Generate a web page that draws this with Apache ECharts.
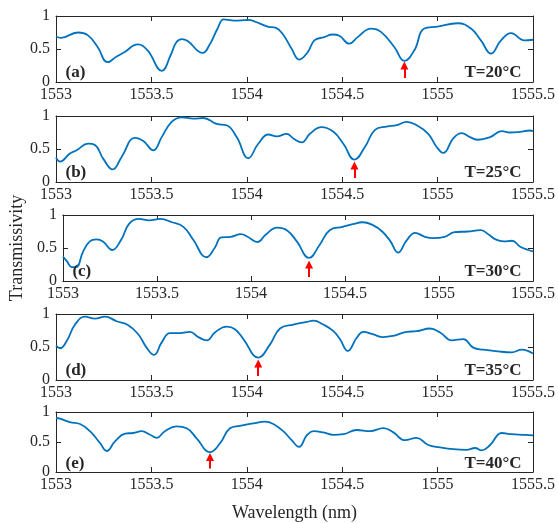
<!DOCTYPE html>
<html>
<head>
<meta charset="utf-8">
<script src="https://cdn.jsdelivr.net/npm/echarts@6/dist/echarts.min.js"></script>
<style>
  html, body { margin: 0; padding: 0; background: #fff; }
  #chart { width: 558px; height: 523px; }
</style>
</head>
<body>
<div id="chart"></div>
<script>
// Transmission spectra of the filter at five temperatures
const temperatures = ['T=20°C', 'T=25°C', 'T=30°C', 'T=35°C', 'T=40°C'];
const panelTags = ['(a)', '(b)', '(c)', '(d)', '(e)'];

// Wavelength samples (nm) and transmissivity for each temperature
const wl20 = [1553.000, 1553.026, 1553.114, 1553.166, 1553.218, 1553.271, 1553.314, 1553.358, 1553.428, 1553.480,
  1553.554, 1553.603, 1553.630, 1553.660, 1553.690, 1553.769, 1553.804, 1553.847, 1553.879, 1553.935, 1554.005,
  1554.039, 1554.109, 1554.153, 1554.190, 1554.232, 1554.275, 1554.319, 1554.354, 1554.406, 1554.450,
  1554.485, 1554.537, 1554.581, 1554.651, 1554.703, 1554.773, 1554.826, 1554.878, 1554.930, 1555.000,
  1555.105, 1555.175, 1555.227, 1555.280, 1555.332, 1555.385, 1555.455, 1555.500];
const t20 = [0.69, 0.67, 0.75, 0.71, 0.53, 0.30, 0.38, 0.45, 0.57, 0.48,
  0.17, 0.42, 0.60, 0.65, 0.62, 0.44, 0.56, 0.81, 0.95, 0.93, 0.94,
  0.92, 0.84, 0.82, 0.72, 0.52, 0.34, 0.45, 0.63, 0.68, 0.72,
  0.70, 0.58, 0.68, 0.81, 0.76, 0.53, 0.32, 0.48, 0.81, 0.84,
  0.89, 0.81, 0.63, 0.43, 0.63, 0.74, 0.63, 0.64];

const wl25 = [1553.000, 1553.021, 1553.073, 1553.108, 1553.169, 1553.204, 1553.248, 1553.297, 1553.344, 1553.414,
  1553.458, 1553.510, 1553.554, 1553.606, 1553.659, 1553.720, 1553.772, 1553.842, 1553.894, 1553.947,
  1554.008, 1554.060, 1554.113, 1554.157, 1554.209, 1554.244, 1554.288, 1554.331, 1554.392, 1554.454,
  1554.506, 1554.564, 1554.619, 1554.672, 1554.733, 1554.785, 1554.838, 1554.890, 1554.951, 1554.995,
  1555.030, 1555.082, 1555.126, 1555.170, 1555.213, 1555.275, 1555.336, 1555.379, 1555.432, 1555.484, 1555.500];
const t25 = [0.37, 0.31, 0.43, 0.48, 0.58, 0.56, 0.35, 0.19, 0.38, 0.67,
  0.62, 0.48, 0.68, 0.91, 0.98, 0.96, 0.97, 0.88, 0.86, 0.68,
  0.36, 0.58, 0.72, 0.69, 0.73, 0.66, 0.60, 0.73, 0.83, 0.76,
  0.58, 0.34, 0.53, 0.79, 0.84, 0.86, 0.91, 0.86, 0.73, 0.53,
  0.44, 0.66, 0.74, 0.68, 0.64, 0.68, 0.77, 0.75, 0.76, 0.78, 0.77];

const wl30 = [1553.000, 1553.021, 1553.047, 1553.070, 1553.108, 1553.143, 1553.178, 1553.213, 1553.262, 1553.309,
  1553.353, 1553.405, 1553.458, 1553.519, 1553.580, 1553.641, 1553.694, 1553.763, 1553.807, 1553.842,
  1553.894, 1553.947, 1553.982, 1554.034, 1554.078, 1554.139, 1554.191, 1554.244, 1554.309, 1554.366,
  1554.419, 1554.488, 1554.541, 1554.593, 1554.646, 1554.698, 1554.742, 1554.782, 1554.829, 1554.873,
  1554.925, 1554.969, 1555.030, 1555.082, 1555.152, 1555.222, 1555.266, 1555.301, 1555.345, 1555.388,
  1555.432, 1555.475, 1555.500];
const t30 = [0.37, 0.30, 0.21, 0.21, 0.45, 0.60, 0.63, 0.60, 0.47, 0.62,
  0.87, 0.94, 0.92, 0.94, 0.89, 0.82, 0.62, 0.36, 0.50, 0.66,
  0.67, 0.71, 0.67, 0.59, 0.70, 0.81, 0.77, 0.60, 0.35, 0.55,
  0.77, 0.82, 0.86, 0.89, 0.85, 0.75, 0.60, 0.43, 0.62, 0.73,
  0.67, 0.65, 0.67, 0.74, 0.75, 0.77, 0.70, 0.63, 0.60, 0.61,
  0.52, 0.47, 0.45];

const wl35 = [1553.000, 1553.021, 1553.056, 1553.100, 1553.152, 1553.204, 1553.257, 1553.318, 1553.379, 1553.432,
  1553.475, 1553.514, 1553.554, 1553.597, 1553.650, 1553.702, 1553.746, 1553.790, 1553.833, 1553.894,
  1553.938, 1553.982, 1554.060, 1554.122, 1554.174, 1554.244, 1554.314, 1554.349, 1554.401, 1554.454,
  1554.488, 1554.529, 1554.576, 1554.611, 1554.663, 1554.716, 1554.768, 1554.838, 1554.890, 1554.960,
  1555.013, 1555.074, 1555.135, 1555.187, 1555.240, 1555.327, 1555.388, 1555.441, 1555.500];
const t35 = [0.52, 0.48, 0.59, 0.84, 0.96, 0.93, 0.96, 0.89, 0.83, 0.69,
  0.49, 0.38, 0.57, 0.71, 0.71, 0.73, 0.65, 0.60, 0.72, 0.81,
  0.77, 0.62, 0.34, 0.54, 0.78, 0.84, 0.88, 0.90, 0.84, 0.74,
  0.62, 0.44, 0.64, 0.73, 0.69, 0.65, 0.67, 0.73, 0.74, 0.78,
  0.72, 0.60, 0.62, 0.49, 0.46, 0.43, 0.42, 0.46, 0.40];

const wl40 = [1553.000, 1553.021, 1553.073, 1553.126, 1553.178, 1553.231, 1553.266, 1553.309, 1553.362, 1553.405,
  1553.449, 1553.493, 1553.528, 1553.571, 1553.632, 1553.685, 1553.737, 1553.807, 1553.860, 1553.912,
  1553.964, 1554.034, 1554.095, 1554.139, 1554.191, 1554.235, 1554.274, 1554.314, 1554.349, 1554.401,
  1554.454, 1554.506, 1554.576, 1554.646, 1554.716, 1554.768, 1554.829, 1554.890, 1554.951, 1555.013,
  1555.082, 1555.152, 1555.196, 1555.231, 1555.275, 1555.336, 1555.388, 1555.449, 1555.500];
const t40 = [0.90, 0.89, 0.83, 0.80, 0.68, 0.48, 0.35, 0.51, 0.64, 0.65,
  0.68, 0.62, 0.57, 0.68, 0.76, 0.73, 0.56, 0.33, 0.48, 0.73,
  0.77, 0.81, 0.84, 0.80, 0.68, 0.53, 0.42, 0.61, 0.68, 0.66,
  0.62, 0.63, 0.70, 0.68, 0.73, 0.66, 0.53, 0.57, 0.45, 0.41,
  0.38, 0.37, 0.40, 0.36, 0.45, 0.65, 0.63, 0.62, 0.61];

const wavelengths = [wl20, wl25, wl30, wl35, wl40];
const transmissivity = [t20, t25, t30, t35, t40];

// Tracked resonance dip marked with an arrow in each panel (nm)
const trackedDip = [1554.826, 1554.564, 1554.309, 1554.060, 1553.807];

const xMin = 1553, xMax = 1555.5, xStep = 0.5;
const yMin = 0, yMax = 1, yStep = 0.5;

const FONT = '"Liberation Serif", "Times New Roman", serif';
const INK = '#262626';
const LINE_BLUE = '#0072BD';

const gridTops = [16, 116, 215, 314, 412];
const grids = [], xAxes = [], yAxes = [], series = [];

gridTops.forEach((top, i) => {
  grids.push({ left: 56, right: 25, top: top, height: 66, containLabel: false });

  const axisLine = { show: true, onZero: false, lineStyle: { color: INK, width: 1 } };
  const tick = { show: true, inside: true, length: 5, lineStyle: { color: INK, width: 1 } };

  // bottom axis with labels, plus a mirrored top axis for the closed box
  xAxes.push({
    gridIndex: i, type: 'value', min: xMin, max: xMax, interval: xStep,
    axisLine: axisLine, axisTick: tick, splitLine: { show: false },
    axisLabel: { color: INK, fontFamily: FONT, fontSize: 16, margin: 5, formatter: v => String(v) },
    name: i === 4 ? 'Wavelength (nm)' : '',
    nameLocation: 'middle', nameGap: 32,
    nameTextStyle: { color: INK, fontFamily: FONT, fontSize: 18 }
  });
  xAxes.push({
    gridIndex: i, type: 'value', position: 'top', min: xMin, max: xMax, interval: xStep,
    axisLine: axisLine, axisTick: tick, axisLabel: { show: false }, splitLine: { show: false }
  });

  yAxes.push({
    gridIndex: i, type: 'value', min: yMin, max: yMax, interval: yStep,
    axisLine: axisLine, axisTick: tick, splitLine: { show: false },
    axisLabel: { color: INK, fontFamily: FONT, fontSize: 16, margin: 6, formatter: v => String(v) },
    name: i === 2 ? 'Transmissivity' : '',
    nameLocation: 'middle', nameGap: 30,
    nameTextStyle: { color: INK, fontFamily: FONT, fontSize: 18 }
  });
  yAxes.push({
    gridIndex: i, type: 'value', position: 'right', min: yMin, max: yMax, interval: yStep,
    axisLine: axisLine, axisTick: tick, axisLabel: { show: false }, splitLine: { show: false }
  });

  const pts = wavelengths[i].map((w, k) => [w, transmissivity[i][k]]);

  series.push({
    type: 'line',
    xAxisIndex: 2 * i, yAxisIndex: 2 * i,
    data: pts,
    smooth: 0.45,
    showSymbol: false,
    silent: true,
    lineStyle: { color: LINE_BLUE, width: 1.8 },
    markPoint: {
      silent: true, symbol: 'rect', symbolSize: 1,
      itemStyle: { color: 'rgba(0,0,0,0)' },
      data: [
        { coord: [xMin, 0.14], label: { show: true, formatter: panelTags[i], position: 'right', distance: 9,
            color: INK, fontFamily: FONT, fontSize: 17, fontWeight: 'bold' } },
        { coord: [xMax, 0.14], label: { show: true, formatter: temperatures[i], position: 'left', distance: 11,
            color: INK, fontFamily: FONT, fontSize: 17, fontWeight: 'bold' } }
      ]
    },
    markLine: {
      silent: true,
      symbol: ['none', 'triangle'],
      symbolSize: 8,
      label: { show: false },
      lineStyle: { color: '#ff0000', width: 2, type: 'solid' },
      itemStyle: { color: '#ff0000' },
      data: [[{ coord: [trackedDip[i], 0.06] }, { coord: [trackedDip[i], 0.25] }]]
    }
  });
});

const chart = echarts.init(document.getElementById('chart'), null, { renderer: 'canvas' });
chart.setOption({
  animation: false,
  backgroundColor: '#ffffff',
  grid: grids,
  xAxis: xAxes,
  yAxis: yAxes,
  series: series
});
</script>
</body>
</html>
